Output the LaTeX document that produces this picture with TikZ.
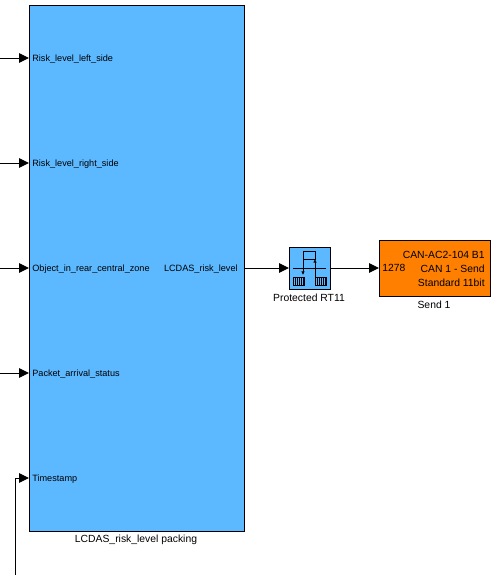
\documentclass[tikz,border=0pt]{standalone}
\usepackage{fontspec}
\setmainfont{Liberation Sans}
\usetikzlibrary{arrows.meta}
\definecolor{blockblue}{RGB}{92,184,255}
\definecolor{blockorange}{RGB}{255,128,0}
\tikzset{
  signal/.style={-{Triangle[length=5.6pt,width=5.4pt]},line width=0.55pt,black},
  blockbox/.style={draw=black,line width=0.55pt},
  txt/.style={inner sep=0pt,font=\fontsize{5.2}{6}\selectfont},
  wide/.style={inner sep=0pt,font=\fontsize{5.9}{7}\selectfont},
}
\begin{document}
\begin{tikzpicture}[x=0.02cm,y=-0.02cm]
\useasboundingbox (0,0) rectangle (499,575);
\filldraw[blockbox,fill=blockblue] (29,5) rectangle (244,531);
\filldraw[blockbox,fill=blockblue] (289,247) rectangle (330,289);
\filldraw[blockbox,fill=blockorange] (379,240) rectangle (490,296);
% ports of the large block
\coordinate (in1) at (29,58);
\coordinate (in2) at (29,163);
\coordinate (in3) at (29,268);
\coordinate (in4) at (29,373);
\coordinate (in5) at (29,478);
\coordinate (s1) at (0,58);
\coordinate (s2) at (0,163);
\coordinate (s3) at (0,268);
\coordinate (s4) at (0,373);
\coordinate (s5) at (15,575);
\coordinate (out) at (244,268);
\coordinate (rtin) at (289,268);
\coordinate (rtout) at (330,268);
\coordinate (canin) at (379,268);
\node[txt,anchor=west] (l1) at (32,59) {Risk\_level\_left\_side};
\node[txt,anchor=west] (l2) at (32,164) {Risk\_level\_right\_side};
\node[txt,anchor=west] (l3) at (32,269) {Object\_in\_rear\_central\_zone};
\node[txt,anchor=west] (l4) at (32,374) {Packet\_arrival\_status};
\node[txt,anchor=west] (l5) at (32,479) {Timestamp};
\node[txt,anchor=east] (l6) at (238,269) {LCDAS\_risk\_level};
\node[wide] (packing) at (136,540) {LCDAS\_risk\_level packing};
\node[wide] (rt) at (309,298) {Protected RT11};
\node[wide] (send) at (434,305) {Send 1};
\node[wide,anchor=west] (id) at (382,268) {1278};
\node[wide,anchor=east] (c1) at (485,255) {CAN-AC2-104 B1};
\node[wide,anchor=east] (c2) at (485,269) {CAN 1 - Send};
\node[wide,anchor=east] (c3) at (485,283) {Standard 11bit};
\draw[signal] (s1) -- (in1);
\draw[signal] (s2) -- (in2);
\draw[signal] (s3) -- (in3);
\draw[signal] (s4) -- (in4);
\draw[signal] (s5) |- (in5);
\draw[signal] (out) -- (rtin);
\draw[signal] (rtout) -- (canin);
% icon of the rate transition block
\draw[line width=0.4pt] (303,251) rectangle (315,259);
\draw[line width=0.4pt] (293,268) -- (326,268);
\draw[-{Latex[length=2pt,width=2pt]},line width=0.4pt] (303,259) -- (303,275);
\draw[-{Latex[length=2pt,width=2pt]},line width=0.4pt] (315,277) -- (315,259);
\foreach \bx in {293,315} {
  \draw[line width=0.35pt] (\bx,277) rectangle (\bx+11,285);
  \foreach \i in {2,4,...,10}
    \draw[line width=0.35pt] (\bx+\i,277) -- (\bx+\i,285);
}
\end{tikzpicture}
\end{document}
